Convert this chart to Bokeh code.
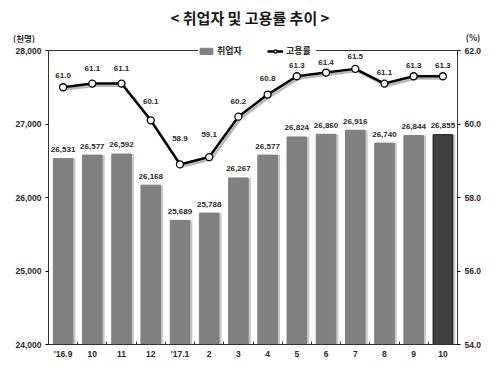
from bokeh.plotting import figure
from bokeh.layouts import column
from bokeh.models import (ColumnDataSource, Range1d, LinearAxis, FixedTicker, Div,
                          NumeralTickFormatter, Legend, LegendItem, LabelSet)
from bokeh.transform import dodge
from bokeh.core.properties import value
from bokeh.embed import file_html
from bokeh.resources import INLINE

months = ["'16.9", "10", "11", "12", "'17.1", "2", "3", "4", "5", "6", "7", "8", "9", "10"]
employed = [26531, 26577, 26592, 26168, 25689, 25788, 26267, 26577, 26824, 26860, 26916, 26740, 26844, 26855]
rate = [61.0, 61.1, 61.1, 60.1, 58.9, 59.1, 60.2, 60.8, 61.3, 61.4, 61.5, 61.1, 61.3, 61.3]
left_ticks = [24000, 25000, 26000, 27000, 28000]
right_ticks = [54.0, 56.0, 58.0, 60.0, 62.0]
emp_lo, emp_hi = 24000, 28000
rate_lo, rate_hi = 54.0, 62.0
title_text = "&lt; 취업자 및 고용률 추이 &gt;"
left_unit = "(천명)"
right_unit = "(%)"

# style: pixel lift of each rate label above its marker
rate_label_lift = [12, 15, 15, 19, 26, 23, 15, 16, 11, 10, 12, 11, 11, 11]

KR = "Noto Sans CJK KR"
NUM = "Liberation Sans"
TXT = "#2a2a2a"
AX = "#333333"
n = len(months)
xs = list(range(n))
bar_colors = ["#808080"] * (n - 1) + ["#404040"]
bar_lines = ["#808080"] * (n - 1) + ["#111111"]

src = ColumnDataSource(dict(
    x=xs, emp=employed, rate=rate,
    emp_lbl=[f"{v:,}" for v in employed],
    rate_lbl=[f"{v:.1f}" for v in rate],
    lift=rate_label_lift,
    color=bar_colors, lcolor=bar_lines,
))

# ---------------- header strip (title + units) ----------------
W = 500
HEAD_H = 42
header_html = (
    f'<div style="position:relative;width:{W}px;height:{HEAD_H}px;'
    f"font-family:'{KR}';font-weight:bold;color:{TXT};\">"
    f'<span style="position:absolute;left:0;top:9px;width:{W}px;text-align:center;'
    f'font-size:15px;line-height:18px;color:#1a1a1a;white-space:nowrap">{title_text}</span>'
    f'<span style="position:absolute;left:13px;top:33px;font-size:8.5px;line-height:10px;'
    f'white-space:nowrap">{left_unit}</span>'
    f'<span style="position:absolute;left:461px;top:32px;width:24px;text-align:center;'
    f'font-size:8.5px;line-height:10px;white-space:nowrap">{right_unit}</span>'
    f'</div>'
)
hdr = Div(text=header_html, width=W, height=HEAD_H, margin=0)

# ---------------- main chart ----------------
H = 374 - HEAD_H
B_LEFT, B_RIGHT, B_BOTTOM = 48, 43, 30
HEAD_PX = 8                              # headroom above the top border for the legend
AXIS_PX = H - B_BOTTOM - HEAD_PX         # pixels spanned by the value axes
emp_top = emp_hi + HEAD_PX * (emp_hi - emp_lo) / AXIS_PX
rate_top = rate_hi + HEAD_PX * (rate_hi - rate_lo) / AXIS_PX

p = figure(width=W, height=H, output_backend="svg", toolbar_location=None,
           x_range=Range1d(-0.5, n - 0.5), y_range=Range1d(emp_lo, emp_top),
           min_border_left=B_LEFT, min_border_right=B_RIGHT,
           min_border_top=0, min_border_bottom=B_BOTTOM)
p.extra_y_ranges = {"rate": Range1d(rate_lo, rate_top)}
p.xgrid.visible = False
p.ygrid.visible = False
p.outline_line_color = None

# top border of the plot box
p.hspan(y=[emp_hi], line_color=AX, line_width=1)

# bar shadows
p.vbar(x=dodge("x", 0.09), top="emp", bottom=emp_lo, width=0.67, source=src,
       fill_color="#c8c8c8", line_color=None)
bars = p.vbar(x="x", top="emp", bottom=emp_lo, width=0.67, source=src,
              fill_color="color", line_color="lcolor", line_width=1)

# line shadow
p.line(x=dodge("x", 0.07), y=dodge("rate", -0.06), source=src, y_range_name="rate",
       line_color="#b8b8b8", line_width=2.5)
ln = p.line(x="x", y="rate", source=src, y_range_name="rate", line_color="black", line_width=2.5)
mk = p.scatter(x="x", y="rate", source=src, y_range_name="rate", size=7,
               fill_color="white", line_color="black", line_width=1.3)

p.add_layout(LabelSet(x="x", y="emp", text="emp_lbl", source=src, y_offset=9,
                      text_align="center", text_baseline="middle",
                      text_font=value(NUM), text_font_style="bold",
                      text_font_size="8px", text_color=TXT))
p.add_layout(LabelSet(x="x", y="rate", text="rate_lbl", source=src, y_range_name="rate",
                      y_offset="lift", text_align="center", text_baseline="middle",
                      text_font=value(NUM), text_font_style="bold",
                      text_font_size="8px", text_color=TXT))

def style_axis(ax):
    ax.axis_line_color = AX
    ax.major_label_text_font = NUM
    ax.major_label_text_font_style = "bold"
    ax.major_label_text_font_size = "8.5px"
    ax.major_label_text_color = TXT

style_axis(p.xaxis[0])
style_axis(p.yaxis[0])
p.xaxis.ticker = FixedTicker(ticks=xs, minor_ticks=[i + 0.5 for i in range(-1, n)])
p.xaxis.major_label_overrides = {i: m for i, m in enumerate(months)}
p.xaxis.major_tick_line_color = None
p.xaxis.major_tick_out = 0
p.xaxis.major_tick_in = 0
p.xaxis.minor_tick_in = 3
p.xaxis.minor_tick_out = 0
p.xaxis.minor_tick_line_color = AX
p.xaxis.major_label_standoff = 4

p.yaxis.ticker = FixedTicker(ticks=left_ticks)
p.yaxis.formatter = NumeralTickFormatter(format="0,0")
p.yaxis.bounds = (emp_lo, emp_hi)
p.yaxis.major_tick_out = 3
p.yaxis.major_tick_in = 0
p.yaxis.minor_tick_line_color = None
p.yaxis.major_label_standoff = 4

ra = LinearAxis(y_range_name="rate", ticker=FixedTicker(ticks=right_ticks),
                formatter=NumeralTickFormatter(format="0.0"), bounds=(rate_lo, rate_hi))
style_axis(ra)
ra.major_tick_out = 3
ra.major_tick_in = 0
ra.minor_tick_line_color = None
ra.major_label_standoff = 4
p.add_layout(ra, "right")

LEG_H = 14
legend = Legend(items=[LegendItem(label="취업자", renderers=[bars]),
                       LegendItem(label="고용률", renderers=[ln, mk])],
                orientation="horizontal", location=(150, AXIS_PX - LEG_H / 2),
                background_fill_color="white", background_fill_alpha=1.0,
                border_line_color=None, label_text_font=KR, label_text_font_size="9px",
                label_text_font_style="bold", label_text_color=TXT,
                glyph_width=16, glyph_height=8, spacing=20, padding=2, margin=0,
                label_standoff=3, label_height=10, label_width=30)
p.add_layout(legend, "center")

layout = column(hdr, p, spacing=0)
open("out.html", "w").write(file_html(layout, INLINE))
